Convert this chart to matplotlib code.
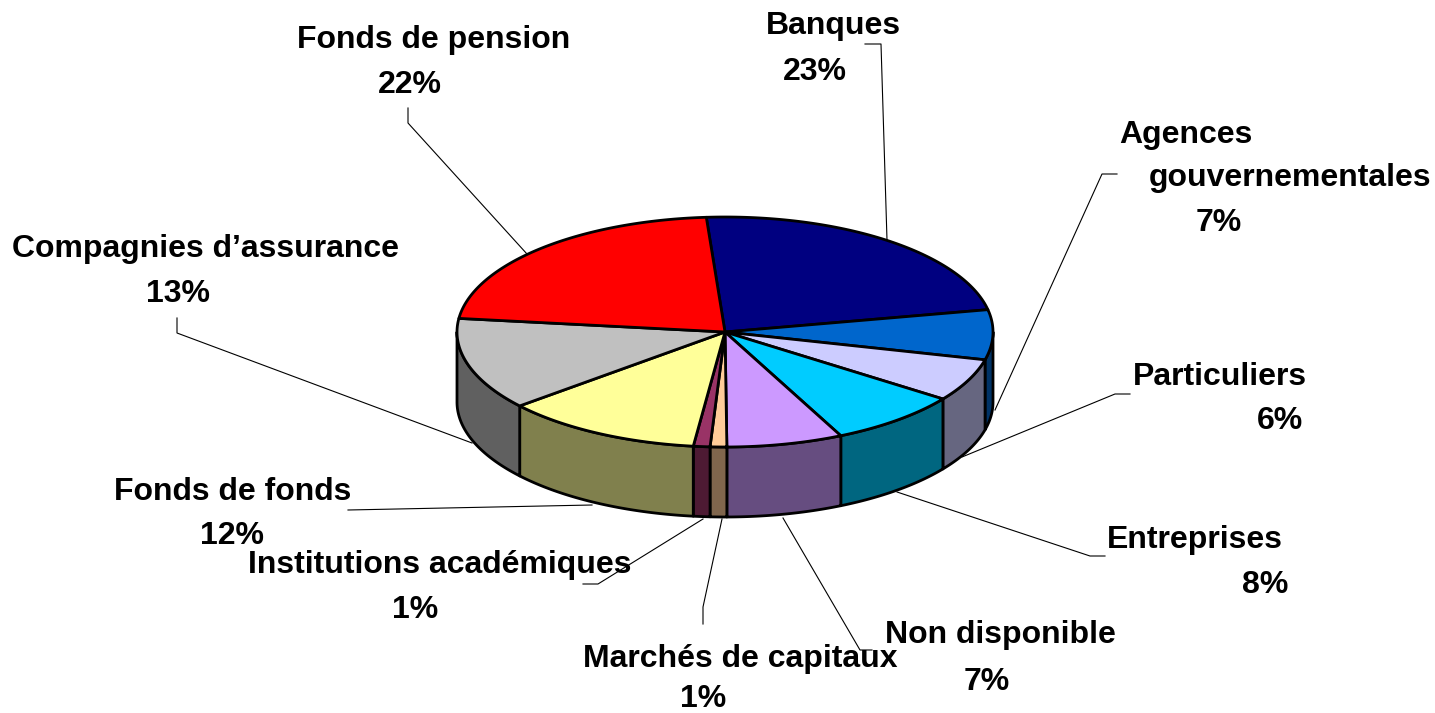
import numpy as np
import matplotlib
matplotlib.use("Agg")
import matplotlib.pyplot as plt
from matplotlib.patches import Polygon
from matplotlib import colors as mcolors

# data
categories = ["Banques", "Agences gouvernementales", "Particuliers", "Entreprises",
              "Non disponible", "Marchés de capitaux", "Institutions académiques",
              "Fonds de fonds", "Compagnies d’assurance", "Fonds de pension"]
shares = [23, 7, 6, 8, 7, 1, 1, 12, 13, 22]
top_colors = ["#000080", "#0066CC", "#CCCCFF", "#00CCFF", "#CC99FF",
              "#FFCC99", "#993366", "#FFFF99", "#C0C0C0", "#FF0000"]

# layout (pixels)
cx, cy = 725, 332
rx, ry = 268, 115
depth = 70
start = 94

# text lines per label: (x_center, baseline)
label_pos = [
    [(833, 34), (815, 80)],
    [(1186, 143), (1290, 186), (1219, 231)],
    [(1220, 385), (1280, 429)],
    [(1195, 548), (1265, 593)],
    [(1000, 643), (987, 690)],
    [(740, 667), (703, 707)],
    [(440, 573), (415, 618)],
    [(233, 500), (232, 544)],
    [(205, 257), (178, 302)],
    [(434, 48), (410, 93)],
]
leaders = [
    [(865, 44), (881, 44), (887, 240)],
    [(1117, 174), (1102, 174), (995, 410)],
    [(1130, 394), (1115, 394), (962, 457)],
    [(1105, 556), (1090, 556), (897, 492)],
    [(872, 650), (860, 650), (783, 518)],
    [(703, 624), (703, 607), (722, 519)],
    [(583, 584), (598, 584), (703, 519)],
    [(348, 510), (592, 505)],
    [(177, 318), (177, 333), (472, 443)],
    [(408, 108), (408, 123), (527, 254)],
]

fig = plt.figure(figsize=(14.35, 7.13), dpi=100)
ax = fig.add_axes([0, 0, 1, 1])
ax.set_xlim(0, 1435)
ax.set_ylim(713, 0)
ax.axis("off")

frac = np.array(shares) / sum(shares)
bounds = start - 360 * np.concatenate([[0], np.cumsum(frac)])


def arc(a1, a2, n=80):
    t = np.radians(np.linspace(a1, a2, n))
    return np.column_stack([cx + rx * np.cos(t), cy - ry * np.sin(t)])


# sides (front half only)
for i in range(len(shares)):
    hi = min(bounds[i], 0)
    lo = max(bounds[i + 1], -180)
    if lo >= hi:
        continue
    pts = arc(hi, lo)
    side = np.vstack([pts, pts[::-1] + [0, depth]])
    rgb = np.array(mcolors.to_rgb(top_colors[i])) * 0.5
    ax.add_patch(Polygon(side, closed=True, facecolor=rgb, edgecolor="black",
                         lw=2, joinstyle="round", zorder=2))

# top face
for i in range(len(shares)):
    pts = np.vstack([[cx, cy], arc(bounds[i], bounds[i + 1])])
    ax.add_patch(Polygon(pts, closed=True, facecolor=top_colors[i], edgecolor="black",
                         lw=2, joinstyle="round", zorder=3))

# leader lines
for pts in leaders:
    pts = np.array(pts)
    ax.plot(pts[:, 0], pts[:, 1], color="black", lw=0.8, zorder=1)

# labels
for i, name in enumerate(categories):
    lines = name.split(" ", 1) if i == 1 else [name]
    lines = lines + [f"{shares[i]}%"]
    for txt, (x, y) in zip(lines, label_pos[i]):
        ax.text(x, y, txt, ha="center", va="baseline", fontsize=23,
                fontweight="bold", family="Liberation Sans", zorder=5)

fig.savefig("out.png", dpi=100)
